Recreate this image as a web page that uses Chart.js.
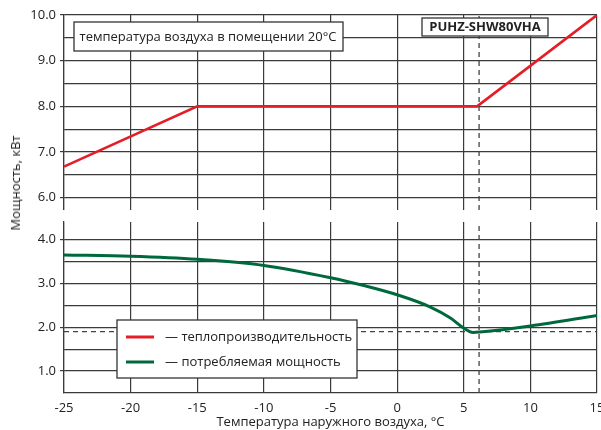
<!DOCTYPE html>
<html>
<head>
<meta charset="utf-8">
<script src="https://cdn.jsdelivr.net/npm/chart.js@4"></script>
<style>
  html, body { margin: 0; padding: 0; background: #fff; }
  #wrap { position: relative; width: 601px; height: 430px; overflow: hidden; }
  .box { position: absolute; left: 0; width: 601px; }
  #topBox { top: 0; height: 210px; }
  #botBox { top: 212px; height: 218px; }
  #ytitle {
    position: absolute; left: 15px; top: 183px;
    transform: translate(-50%, -50%) rotate(-90deg);
    font: 13px "Open Sans", sans-serif; color: #222; white-space: nowrap;
  }
</style>
</head>
<body>
<div id="wrap">
  <div class="box" id="topBox"><canvas id="topChart"></canvas></div>
  <div class="box" id="botBox"><canvas id="botChart"></canvas></div>
  <div id="ytitle">Мощность, кВт</div>
</div>
<script>
// ---- data ----
const heatTemps = [-25, -15, 6.0, 15];
const heatOutput = [6.68, 8.0, 8.0, 10.0];

const powerTemps = [-25, -20, -15, -10, -5, -2.5, 0, 2.5, 4, 5, 5.7, 6.2, 10, 15];
const powerInput = [3.65, 3.62, 3.55, 3.41, 3.13, 2.95, 2.74, 2.46, 2.21, 1.98, 1.88, 1.89, 2.03, 2.27];

const markerTemp = 6.15;   // dashed vertical line
const markerPower = 1.9;   // dashed horizontal line

const xTicks = [-25, -20, -15, -10, -5, 0, 5, 10, 15];
const topTicks = [6, 6.5, 7, 7.5, 8, 8.5, 9, 9.5, 10];
const botTicks = [1, 1.5, 2, 2.5, 3, 3.5, 4];

const seriesNames = ["теплопроизводительность", "потребляемая мощность"];
const seriesColors = ["#e41e26", "#00693c"];
const roomNote = "температура воздуха в помещении 20°С";
const modelName = "PUHZ-SHW80VHA";

Chart.defaults.font.family = "'Open Sans', sans-serif";
Chart.defaults.font.size = 13;
Chart.defaults.color = "#222";

const gridColor = "#3a3a3a";
const dashColor = "#444";

const pairs = (xs, ys) => xs.map((x, i) => ({ x, y: ys[i] }));

function yScale(min, max, ticks) {
  return {
    type: "linear",
    min, max,
    afterBuildTicks: (s) => { s.ticks = ticks.map((v) => ({ value: v })); },
    afterFit: (s) => { s.width = 64; s.paddingTop = 0; s.paddingBottom = 0; },
    border: { display: true, color: gridColor, width: 1.2 },
    grid: {
      color: gridColor,
      lineWidth: 1.2,
      tickLength: 4,
      tickColor: (c) => (c.tick && Number.isInteger(c.tick.value) ? gridColor : "rgba(0,0,0,0)"),
    },
    ticks: {
      padding: 4,
      callback: (v) => (Number.isInteger(v) ? v.toFixed(1) : ""),
    },
  };
}

function drawBox(ctx, x1, y1, x2, y2) {
  ctx.save();
  ctx.fillStyle = "#fff";
  ctx.fillRect(x1, y1, x2 - x1, y2 - y1);
  ctx.strokeStyle = "#333";
  ctx.lineWidth = 1.3;
  ctx.strokeRect(x1, y1, x2 - x1, y2 - y1);
  ctx.restore();
}

/* ========= top panel: heating capacity ========= */
const topNotes = {
  id: "topNotes",
  afterDatasetsDraw(chart) {
    const ctx = chart.ctx;
    drawBox(ctx, 74, 22, 343, 51);
    ctx.save();
    ctx.fillStyle = "#222";
    ctx.font = "13px 'Open Sans', sans-serif";
    ctx.textAlign = "center";
    ctx.textBaseline = "middle";
    ctx.fillText(roomNote, 208, 37);
    drawBox(ctx, 422, 18, 548, 36);
    ctx.font = "bold 13px 'Open Sans', sans-serif";
    ctx.fillText(modelName, 485, 27.5);
    ctx.restore();
  },
};

new Chart(document.getElementById("topChart"), {
  type: "line",
  data: {
    datasets: [
      {
        label: "marker",
        data: pairs([markerTemp, markerTemp], [5.73, 10]),
        borderColor: dashColor,
        borderWidth: 1.3,
        borderDash: [5, 4],
        pointRadius: 0,
      },
      {
        label: seriesNames[0],
        data: pairs(heatTemps, heatOutput),
        borderColor: seriesColors[0],
        borderWidth: 2.6,
        pointRadius: 0,
        tension: 0,
      },
    ],
  },
  options: {
    responsive: true,
    maintainAspectRatio: false,
    animation: false,
    layout: { padding: { top: 15, right: 4, bottom: 0, left: 0 } },
    plugins: { legend: { display: false }, tooltip: { enabled: false } },
    scales: {
      x: {
        type: "linear",
        min: -25, max: 15,
        afterBuildTicks: (s) => { s.ticks = xTicks.map((v) => ({ value: v })); },
        afterFit: (s) => { s.height = 0; s.paddingLeft = 0; s.paddingRight = 0; },
        border: { display: false },
        grid: { color: gridColor, lineWidth: 1.2, drawTicks: false },
        ticks: { display: false },
      },
      y: yScale(5.73, 10, topTicks),
    },
  },
  plugins: [topNotes],
});

/* ========= bottom panel: power input ========= */
const botOffset = 212;
const botLegend = {
  id: "botLegend",
  afterDatasetsDraw(chart) {
    const ctx = chart.ctx;
    const o = botOffset;
    drawBox(ctx, 117, 320 - o, 357, 378 - o);
    ctx.save();
    ctx.font = "13px 'Open Sans', sans-serif";
    ctx.textBaseline = "middle";
    ctx.textAlign = "left";
    const rows = [337, 362];
    rows.forEach((y, i) => {
      ctx.strokeStyle = seriesColors[i];
      ctx.lineWidth = 3;
      ctx.beginPath();
      ctx.moveTo(126, y - o);
      ctx.lineTo(154, y - o);
      ctx.stroke();
      ctx.fillStyle = "#222";
      ctx.fillText("— " + seriesNames[i], 165, y - o);
    });
    ctx.restore();
  },
};

new Chart(document.getElementById("botChart"), {
  type: "line",
  data: {
    datasets: [
      {
        label: "marker",
        data: pairs([markerTemp, markerTemp], [0.5, 4.4]),
        borderColor: dashColor,
        borderWidth: 1.3,
        borderDash: [5, 4],
        pointRadius: 0,
      },
      {
        label: "min",
        data: pairs([-25, 15], [markerPower, markerPower]),
        borderColor: dashColor,
        borderWidth: 1.3,
        borderDash: [5, 4],
        pointRadius: 0,
      },
      {
        label: seriesNames[1],
        data: pairs(powerTemps, powerInput),
        borderColor: seriesColors[1],
        borderWidth: 3,
        pointRadius: 0,
        cubicInterpolationMode: "monotone",
      },
    ],
  },
  options: {
    responsive: true,
    maintainAspectRatio: false,
    animation: false,
    layout: { padding: { top: 10, right: 4, bottom: 0, left: 0 } },
    plugins: { legend: { display: false }, tooltip: { enabled: false } },
    scales: {
      x: {
        type: "linear",
        min: -25, max: 15,
        afterBuildTicks: (s) => { s.ticks = xTicks.map((v) => ({ value: v })); },
        afterFit: (s) => { s.height = 37; s.paddingLeft = 0; s.paddingRight = 0; },
        border: { display: true, color: gridColor, width: 1.2 },
        grid: { color: gridColor, lineWidth: 1.2, drawTicks: false },
        ticks: { padding: 7, maxRotation: 0, autoSkip: false },
        title: {
          display: true,
          text: "Температура наружного воздуха, °С",
          padding: { top: 0, bottom: 0 },
        },
      },
      y: yScale(0.5, 4.4, botTicks),
    },
  },
  plugins: [botLegend],
});
</script>
</body>
</html>
